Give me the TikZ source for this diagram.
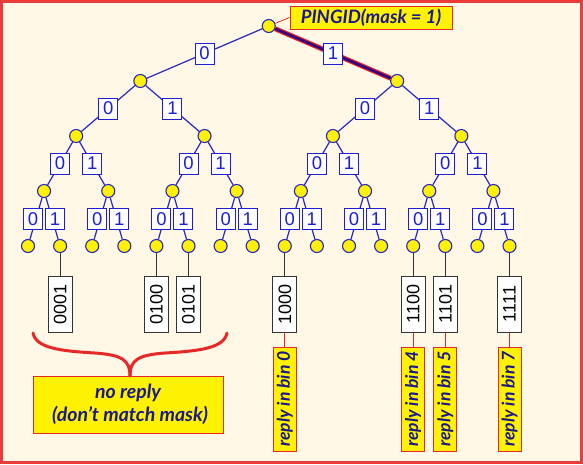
\documentclass[tikz,border=0pt]{standalone}
\usepackage{fontspec}
\setmainfont{Liberation Sans}
\newfontfamily\callfont{Lato}
\usetikzlibrary{positioning}
\definecolor{paper}{RGB}{255,248,230}
\definecolor{framered}{RGB}{235,60,60}
\definecolor{treeblue}{RGB}{40,40,190}
\definecolor{bitblue}{RGB}{30,30,210}
\definecolor{navy}{RGB}{25,25,140}
\definecolor{callred}{RGB}{230,40,40}
\definecolor{hilite}{RGB}{50,0,130}

\begin{document}
\begin{tikzpicture}[x=1pt, y=-1pt,
    vertex/.style = {circle, draw=treeblue, fill=yellow, line width=1.1pt, minimum size=13pt, inner sep=0pt},
    branch/.style = {draw=treeblue, line width=1.2pt},
    bit/.style = {draw=bitblue, fill=white, line width=1pt, minimum width=19pt, minimum height=21pt, inner sep=0pt, text=bitblue, font=\fontsize{18.5}{18.5}\selectfont},
    idbox/.style = {draw=black!80, fill=white, line width=0.9pt, rotate=90, minimum width=56pt, minimum height=24pt, inner sep=0pt, font=\fontsize{18}{18}\selectfont},
    callout/.style = {draw=callred, fill=yellow, line width=1pt, text=navy, font=\callfont\bfseries\itshape\fontsize{17.5}{21}\selectfont, inner sep=0pt},
    replybox/.style = {callout, rotate=90, minimum width=104pt, minimum height=23pt}
    ]
    \useasboundingbox (0,0) rectangle (583,464);
    \fill[paper] (0,0) rectangle (583,464);
    \draw[framered, line width=3pt] (1.5,1.5) rectangle (581.5,462.5);

    % tree nodes, level by level
    \foreach \L in {0,...,4}{
      \pgfmathtruncatemacro{\kmax}{2^\L-1}
      \foreach \k in {0,...,\kmax}{
        \pgfmathsetmacro{\xx}{28+32.1*((\k+0.5)*2^(4-\L)-0.5)}
        \node[vertex] (n-\L-\k) at (\xx, 26+55*\L) {};
      }
    }

    % branches
    \foreach \L in {1,...,4}{
      \pgfmathtruncatemacro{\kmax}{2^\L-1}
      \pgfmathtruncatemacro{\P}{\L-1}
      \foreach \k in {0,...,\kmax}{
        \pgfmathtruncatemacro{\p}{div(\k,2)}
        \draw[branch] (n-\P-\p) -- (n-\L-\k);
      }
    }
    \draw[callred, line width=5pt] (n-0-0) -- (n-1-1);
    \draw[hilite, line width=2.6pt] (n-0-0) -- (n-1-1);

    % bit labels
    \foreach \L in {1,...,3}{
      \pgfmathtruncatemacro{\kmax}{2^\L-1}
      \pgfmathtruncatemacro{\P}{\L-1}
      \foreach \k in {0,...,\kmax}{
        \pgfmathtruncatemacro{\p}{div(\k,2)}
        \pgfmathtruncatemacro{\b}{mod(\k,2)}
        \path (n-\P-\p) -- (n-\L-\k) node[bit, midway] {\b};
      }
    }
    \foreach \p in {0,...,7}{
      \node[bit] (b0-\p) at ([xshift=-11pt, yshift=-28pt]n-3-\p.center) {0};
      \node[bit] (b1-\p) at ([xshift=11pt, yshift=-28pt]n-3-\p.center) {1};
    }

    % ids of the answering leaves
    \foreach \k/\id in {1/0001, 4/0100, 5/0101, 8/1000, 12/1100, 13/1101, 15/1111}{
      \node[idbox] (id-\k) at ([yshift=-58pt]n-4-\k.center) {\id};
      \draw[black!80, line width=1.1pt] (n-4-\k) -- (id-\k);
    }
    \foreach \k/\bin in {8/0, 12/4, 13/5, 15/7}{
      \node[replybox] (rp-\k) at ([yshift=-95pt]id-\k.center) {reply in bin \bin};
      \draw[callred, line width=1.1pt] (id-\k) -- (rp-\k);
    }

    % query and the silent ones
    \node[callout, minimum width=162pt, minimum height=23pt, font=\callfont\bfseries\itshape\fontsize{18.5}{21}\selectfont] (ping) at (371,17.5) {PINGID(mask = 1)};
    \draw[callred, line width=0.8pt] (n-0-0) -- (ping.west);

    \node[callout, align=center, minimum width=190pt, minimum height=57pt, font=\callfont\bfseries\itshape\fontsize{19.5}{23}\selectfont] (noreply) at (128,404.5) {no reply\\ \ (don’t match mask)};
    \draw[callred, line width=3pt, line cap=round] (33,333) .. controls (36,348) and (60,351) .. (95,353) .. controls (122,355) and (130,360) .. (130,376);
    \draw[callred, line width=3pt, line cap=round] (227,333) .. controls (224,348) and (200,351) .. (165,353) .. controls (138,355) and (130,360) .. (130,376);
\end{tikzpicture}
\end{document}
